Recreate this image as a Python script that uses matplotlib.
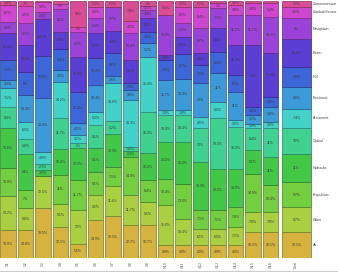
import matplotlib

matplotlib.use("Agg")
import matplotlib.pyplot as plt
import numpy as np
from matplotlib.lines import Line2D

# categories from bottom of the stack to the top
CATEGORIES = [
    "Air", "Water", "Propulsion", "Hydraulic", "Optical", "Armament",
    "Electronic", "Hull", "Power", "Navigation", "Combat/Sensor", "Communication",
]
COLORS = [
    "#d6b33f", "#aad041", "#73cf40", "#42c846", "#3fd18f", "#42d2c8",
    "#3c9ad8", "#3d66d8", "#5b3ed3", "#9b42d8", "#d046d0", "#dc4c96",
]
BAR_LABELS = [f"S{i}" for i in range(1, 17)] + ["Total"]

# one list per bar, bottom to top (percent of bar)
S1 = [10.8, 13.2, 10.8, 15.6, 8.4, 7.1, 3.2, 7.8, 10.4, 4.5, 6.7, 1.4]
S2 = [10.8, 8.8, 7.0, 14.0, 5.8, 6.5, 10.4, 9.0, 10.4, 8.7, 6.5, 2.0]
S3 = [19.6, 12.5, 0.0, 2.2, 2.3, 4.9, 20.9, 16.6, 14.3, 2.6, 3.9, 0.5]
S4 = [12.1, 9.1, 11.0, 10.4, 11.7, 14.2, 4.5, 8.4, 6.5, 9.1, 2.0, 1.0]
S5 = [5.6, 13.0, 11.7, 12.3, 2.0, 3.2, 4.5, 12.3, 13.6, 9.7, 2.0, 10.0]
S6 = [14.9, 9.5, 9.1, 9.1, 9.1, 5.2, 10.4, 10.4, 9.7, 5.8, 4.5, 2.2]
S7 = [16.6, 11.7, 7.1, 13.0, 5.2, 14.9, 2.6, 9.1, 8.4, 9.7, 0.0, 2.2]
S8 = [12.7, 11.7, 14.9, 2.3, 1.6, 18.2, 3.6, 2.9, 9.1, 10.4, 4.5, 7.8]
S9 = [12.7, 9.1, 8.4, 10.4, 16.2, 21.4, 5.2, 4.5, 5.2, 3.2, 1.5, 2.0]
S10 = [4.9, 15.6, 10.4, 14.2, 10.4, 1.9, 11.7, 7.8, 1.9, 15.6, 0.0, 5.5]
S11 = [4.9, 10.4, 13.6, 16.2, 10.4, 1.9, 12.3, 9.7, 6.5, 5.2, 6.5, 2.2]
S12 = [4.9, 6.5, 7.1, 18.8, 13.0, 4.5, 13.0, 7.1, 4.5, 9.7, 8.4, 2.2]
S13 = [4.9, 6.5, 7.1, 16.2, 19.5, 6.5, 11.0, 8.4, 9.1, 7.7, 2.0, 0.9]
S14 = [4.9, 7.1, 7.8, 14.9, 16.2, 2.6, 11.0, 6.5, 11.7, 11.7, 3.9, 1.6]
S15 = [10.1, 7.8, 14.9, 9.1, 8.4, 1.9, 3.2, 3.2, 24.0, 11.7, 4.8, 0.7]
S16 = [10.1, 7.8, 10.4, 11.0, 11.0, 2.6, 5.8, 3.9, 16.9, 14.2, 5.4, 0.7]
TOTAL = [10.1, 9.7, 9.7, 11.0, 10.0, 7.4, 8.6, 7.8, 10.8, 8.0, 4.5, 2.2]

BARS = [S1, S2, S3, S4, S5, S6, S7, S8, S9, S10, S11, S12, S13, S14, S15, S16, TOTAL]


def darker(hex_color, f=0.62):
    c = np.array(matplotlib.colors.to_rgb(hex_color))
    return tuple(c * f)


def fmt(v):
    s = f"{v:.1f}".rstrip("0").rstrip(".")
    return s + "%"


def main():
    plt.rcParams["font.family"] = ["Liberation Sans", "DejaVu Sans"]
    W, H = 338, 274
    fig = plt.figure(figsize=(W / 100, H / 100), dpi=100)
    step = 17.5  # pixels per bar slot
    ax = fig.add_axes([0, 16 / H, 312 / W, 257 / H])
    x0 = -8 / step
    ax.set_xlim(x0, x0 + 312 / step)
    ax.set_ylim(0, 100)

    xs = list(range(16)) + [16.48]
    widths = [0.88] * 16 + [1.66]

    data = np.array(BARS, dtype=float)
    data = data / data.sum(axis=1, keepdims=True) * 100

    for j, cat in enumerate(CATEGORIES):
        bottoms = data[:, :j].sum(axis=1)
        vals = data[:, j]
        ax.bar(xs, vals, widths, bottom=bottoms, color=COLORS[j],
               edgecolor=darker(COLORS[j]), linewidth=0.5)
        for x, b, v in zip(xs, bottoms, vals):
            if v < 1.2:
                continue
            ax.text(x, b + v / 2, fmt(v), ha="center", va="center",
                    fontsize=2.5, color="#3a3a3a")

    # category names beside the total bar
    tb = np.concatenate([[0], np.cumsum(data[-1])])
    for j, cat in enumerate(CATEGORIES):
        ax.text(x0 + 312.5 / step, (tb[j] + tb[j + 1]) / 2, cat, ha="left",
                va="center", fontsize=2.5, color="#444444", clip_on=False)

    ax.set_xticks(xs)
    ax.set_xticklabels(BAR_LABELS, rotation=90, fontsize=2.8, color="#666666")
    ax.tick_params(axis="x", length=0, pad=2)
    ax.set_yticks([])
    for sp in ax.spines.values():
        sp.set_visible(False)

    fig.add_artist(Line2D([0, 1], [3 / H, 3 / H], color="#cccccc", lw=0.8))
    fig.savefig("out.png", dpi=100)
    plt.close(fig)


if __name__ == "__main__":
    main()
